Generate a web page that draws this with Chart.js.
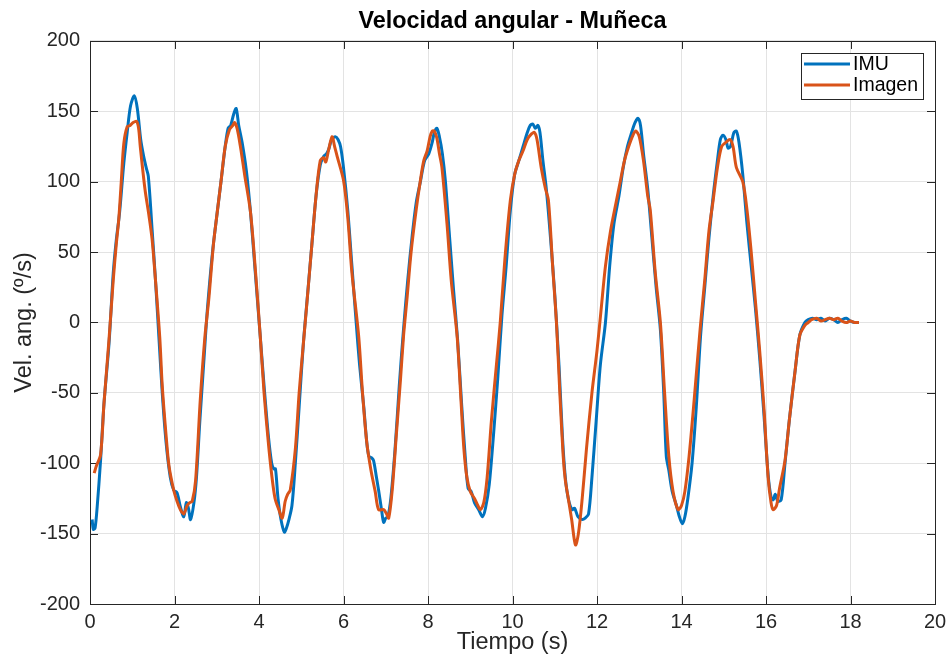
<!DOCTYPE html>
<html>
<head>
<meta charset="utf-8">
<script src="https://cdn.jsdelivr.net/npm/chart.js@4/dist/chart.umd.min.js"></script>
<style>
  html, body { margin: 0; padding: 0; background: #ffffff; }
  #wrap { width: 948px; height: 657px; }
</style>
</head>
<body>
<div id="wrap"><canvas id="c" width="948" height="657"></canvas></div>
<script>
// Angular velocity of the wrist: IMU sensor vs. image tracking
const imuTime = [
  0.05,0.08,0.12,0.17,0.25,0.33,0.45,0.55,0.62,0.70,0.80,0.88,0.96,1.05,1.12,1.20,1.27,1.33,1.38,1.47,
  1.55,1.63,1.71,1.80,1.90,1.98,2.06,2.14,2.22,2.28,2.33,2.38,2.46,2.52,2.60,2.70,2.78,2.90,3.01,3.10,
  3.20,3.27,3.33,3.40,3.46,3.52,3.60,3.70,3.80,3.90,4.03,4.12,4.22,4.30,4.35,4.39,4.45,4.52,4.60,4.65,
  4.70,4.78,4.86,4.95,5.05,5.15,5.25,5.35,5.45,5.53,5.60,5.65,5.72,5.81,5.87,5.93,6.00,6.10,6.20,6.30,
  6.38,6.48,6.55,6.60,6.66,6.71,6.78,6.83,6.90,6.95,7.00,7.05,7.12,7.22,7.32,7.42,7.52,7.62,7.72,7.82,
  7.92,8.02,8.10,8.15,8.21,8.27,8.34,8.41,8.50,8.60,8.70,8.80,8.88,8.95,9.02,9.10,9.20,9.29,9.36,9.45,
  9.55,9.65,9.75,9.85,9.95,10.05,10.15,10.25,10.35,10.42,10.48,10.54,10.60,10.65,10.72,10.80,10.90,11.00,11.10,11.18,
  11.25,11.32,11.41,11.47,11.55,11.65,11.72,11.80,11.88,11.98,12.08,12.20,12.30,12.40,12.52,12.62,12.72,12.82,12.90,12.97,
  13.03,13.10,13.20,13.30,13.40,13.50,13.58,13.64,13.70,13.78,13.88,13.95,14.02,14.08,14.15,14.25,14.35,14.45,14.55,14.65,
  14.75,14.85,14.92,14.98,15.05,15.10,15.16,15.24,15.30,15.36,15.45,15.55,15.65,15.75,15.85,15.95,16.05,16.12,16.17,16.22,
  16.28,16.36,16.45,16.55,16.69,16.80,16.92,17.00,17.10,17.20,17.30,17.40,17.50,17.60,17.70,17.80,17.90,18.00,18.10,18.20
];
const imuValues = [
  -140,-147,-146,-131,-98,-58,-15,35,58,78,113,135,154,161,152,130,118,110,104,66,
  30,-10,-50,-85,-110,-119,-121,-131,-138,-128,-132,-140,-128,-110,-70,-25,10,50,78,100,
  125,138,140,148,152,140,128,108,78,40,-10,-45,-80,-100,-104,-104,-125,-140,-149,-146,
  -141,-130,-100,-60,-15,20,55,90,112,118,120,123,130,132,130,125,110,80,40,0,
  -30,-60,-85,-95,-96,-98,-110,-119,-133,-142,-139,-138,-125,-90,-45,-5,30,60,85,100,
  115,120,128,135,138,132,120,101,65,25,-12,-60,-95,-118,-120,-128,-133,-138,-132,-115,
  -80,-40,5,40,80,105,115,125,135,140,141,138,140,135,115,95,60,20,-30,-80,
  -110,-125,-133,-132,-138,-140,-139,-136,-110,-70,-30,0,40,70,90,110,125,135,142,145,
  140,120,95,60,25,-5,-50,-95,-105,-120,-130,-138,-143,-138,-125,-100,-60,-10,25,60,
  90,115,130,133,130,124,125,135,136,128,105,70,40,10,-25,-65,-108,-124,-126,-122,
  -127,-126,-100,-70,-34,-9,0,2,3,2,3,1,3,2,0,2,3,1,0,0
];

const imagenTime = [
  0.10,0.15,0.25,0.33,0.45,0.55,0.62,0.68,0.74,0.80,0.88,0.95,1.02,1.10,1.15,1.19,1.30,1.40,1.47,1.55,
  1.65,1.71,1.80,1.87,1.98,2.06,2.14,2.22,2.30,2.36,2.42,2.50,2.61,2.72,2.81,2.92,3.01,3.10,3.20,3.30,
  3.38,3.42,3.48,3.56,3.66,3.80,3.92,4.03,4.12,4.22,4.30,4.38,4.47,4.55,4.62,4.68,4.74,4.86,4.95,5.05,
  5.14,5.25,5.35,5.45,5.53,5.58,5.65,5.73,5.79,5.85,6.00,6.10,6.20,6.36,6.45,6.55,6.65,6.75,6.83,6.95,
  7.02,7.07,7.15,7.25,7.35,7.42,7.50,7.60,7.72,7.82,7.90,7.98,8.05,8.10,8.15,8.21,8.27,8.33,8.45,8.55,
  8.69,8.78,8.85,8.92,9.00,9.10,9.18,9.24,9.32,9.40,9.50,9.62,9.71,9.82,9.95,10.05,10.15,10.25,10.35,10.45,
  10.52,10.58,10.68,10.78,10.85,10.95,11.04,11.12,11.20,11.25,11.32,11.40,11.49,11.56,11.65,11.75,11.88,12.00,12.10,12.20,
  12.32,12.45,12.55,12.65,12.75,12.85,12.92,13.00,13.10,13.20,13.26,13.38,13.50,13.60,13.70,13.80,13.92,14.00,14.08,14.18,
  14.30,14.44,14.55,14.65,14.75,14.85,14.95,15.05,15.15,15.22,15.30,15.45,15.55,15.65,15.75,15.85,15.95,16.05,16.12,16.17,
  16.25,16.32,16.45,16.55,16.69,16.80,16.92,17.00,17.08,17.20,17.30,17.40,17.50,17.60,17.70,17.80,17.90,18.00,18.10,18.20
];
const imagenValues = [
  -107,-102,-94,-58,-12,30,55,73,100,127,139,140,142,143,138,125,95,75,59,30,
  -10,-45,-80,-102,-119,-127,-133,-136,-130,-128,-127,-112,-55,-10,16,55,78,100,125,137,
  140,142,138,125,105,78,35,-10,-50,-85,-108,-125,-133,-139,-127,-122,-119,-90,-50,-15,
  16,55,90,115,117,114,123,132,125,118,101,75,35,-10,-50,-85,-105,-120,-133,-133,
  -136,-139,-120,-80,-40,-10,16,50,80,101,115,122,132,136,136,131,120,110,70,30,
  -10,-55,-90,-110,-120,-125,-130,-133,-128,-110,-70,-30,0,45,87,105,115,122,130,134,
  135,130,110,95,87,40,0,-50,-95,-112,-125,-140,-158,-150,-125,-90,-50,-20,10,40,
  65,85,100,115,125,133,136,132,115,90,80,35,0,-50,-95,-120,-133,-130,-120,-95,
  -55,-5,30,65,87,110,125,128,130,125,110,100,80,50,15,-20,-60,-110,-128,-133,
  -130,-118,-98,-70,-34,-9,-2,0,2,3,1,2,3,2,3,1,0,1,0,0
];

const seriesNames = ['IMU', 'Imagen'];
const seriesColors = ['#0072BD', '#D95319'];
const xRange = [0, 20, 2];
const yRange = [-200, 200, 50];
const chartTitle = 'Velocidad angular - Muñeca';
const xTitle = 'Tiempo (s)';
const yTitle = 'Vel. ang. (º/s)';

const pairs = (xs, ys) => xs.map((x, i) => ({ x: x, y: ys[i] }));

const axisColor = '#262626';
const fontFamily = '"Liberation Sans", Arial, Helvetica, sans-serif';

// Box around the axes plus inward tick marks on all four sides
const boxAndTicks = {
  id: 'boxAndTicks',
  beforeDatasetsDraw(chart) {
    const { ctx, chartArea: a, scales } = chart;
    const len = 8;
    ctx.save();
    ctx.strokeStyle = axisColor;
    ctx.lineWidth = 1;
    ctx.beginPath();
    scales.x.ticks.forEach(t => {
      const px = Math.round(scales.x.getPixelForValue(t.value)) + 0.5;
      ctx.moveTo(px, a.bottom); ctx.lineTo(px, a.bottom - len);
      ctx.moveTo(px, a.top); ctx.lineTo(px, a.top + len);
    });
    scales.y.ticks.forEach(t => {
      const py = Math.round(scales.y.getPixelForValue(t.value)) + 0.5;
      ctx.moveTo(a.left, py); ctx.lineTo(a.left + len, py);
      ctx.moveTo(a.right, py); ctx.lineTo(a.right - len, py);
    });
    ctx.stroke();
    ctx.strokeRect(Math.round(a.left) + 0.5, Math.round(a.top) + 0.5,
                   Math.round(a.right - a.left), Math.round(a.bottom - a.top));
    ctx.restore();
  }
};

// Boxed legend in the upper-right corner of the axes
const boxedLegend = {
  id: 'boxedLegend',
  afterDatasetsDraw(chart) {
    const { ctx, chartArea: a } = chart;
    const ds = chart.data.datasets;
    const w = 122, rowH = 21, h = 46;
    const x0 = a.right - 12 - w, y0 = a.top + 12;
    ctx.save();
    ctx.fillStyle = '#ffffff';
    ctx.fillRect(x0, y0, w, h);
    ctx.strokeStyle = axisColor;
    ctx.lineWidth = 1;
    ctx.strokeRect(Math.round(x0) + 0.5, Math.round(y0) + 0.5, w, h);
    ctx.font = '19.5px ' + fontFamily;
    ctx.textBaseline = 'middle';
    ctx.textAlign = 'left';
    ds.forEach((d, i) => {
      const cy = y0 + 11 + i * rowH;
      ctx.strokeStyle = d.borderColor;
      ctx.lineWidth = 3;
      ctx.beginPath();
      ctx.moveTo(x0 + 3, cy); ctx.lineTo(x0 + 49, cy);
      ctx.stroke();
      ctx.fillStyle = '#000000';
      ctx.fillText(d.label, x0 + 52, cy + 1);
    });
    ctx.restore();
  }
};

new Chart(document.getElementById('c'), {
  type: 'scatter',
  data: {
    datasets: [
      { label: seriesNames[0], data: pairs(imuTime, imuValues), borderColor: seriesColors[0],
        backgroundColor: seriesColors[0], showLine: true, pointRadius: 0, borderWidth: 3,
        tension: 0.3, order: 1 },
      { label: seriesNames[1], data: pairs(imagenTime, imagenValues), borderColor: seriesColors[1],
        backgroundColor: seriesColors[1], showLine: true, pointRadius: 0, borderWidth: 3,
        tension: 0.3, order: 0 }
    ]
  },
  options: {
    responsive: false,
    animation: false,
    devicePixelRatio: 1,
    layout: { padding: { left: 0, right: 13, top: 0, bottom: 0 } },
    plugins: {
      legend: { display: false },
      tooltip: { enabled: false },
      title: {
        display: true, text: chartTitle, color: '#000000', fullSize: false,
        font: { family: fontFamily, size: 23.4, weight: 'bold', lineHeight: 1.2 },
        padding: { top: 8, bottom: 4.9 }
      }
    },
    scales: {
      x: {
        type: 'linear', min: xRange[0], max: xRange[1],
        ticks: { stepSize: xRange[2], color: axisColor, padding: 6,
                 font: { family: fontFamily, size: 20 }, maxRotation: 0 },
        grid: { color: '#e3e3e3', drawTicks: false, lineWidth: 1 },
        border: { display: false },
        title: { display: true, text: xTitle, color: axisColor,
                 font: { family: fontFamily, size: 23.5 }, padding: { top: 0, bottom: 0 } },
        afterFit(s) { s.height = 53; s.paddingLeft = 0; s.paddingRight = 0; }
      },
      y: {
        type: 'linear', min: yRange[0], max: yRange[1],
        ticks: { stepSize: yRange[2], color: axisColor, padding: 10,
                 font: { family: fontFamily, size: 20 } },
        grid: { color: '#e3e3e3', drawTicks: false, lineWidth: 1 },
        border: { display: false },
        title: { display: true, text: yTitle, color: axisColor,
                 font: { family: fontFamily, size: 23.5 }, padding: { top: 10, bottom: 0 } },
        afterFit(s) { s.width = 90; s.paddingTop = 0; s.paddingBottom = 0; }
      }
    }
  },
  plugins: [boxAndTicks, boxedLegend]
});
</script>
</body>
</html>
